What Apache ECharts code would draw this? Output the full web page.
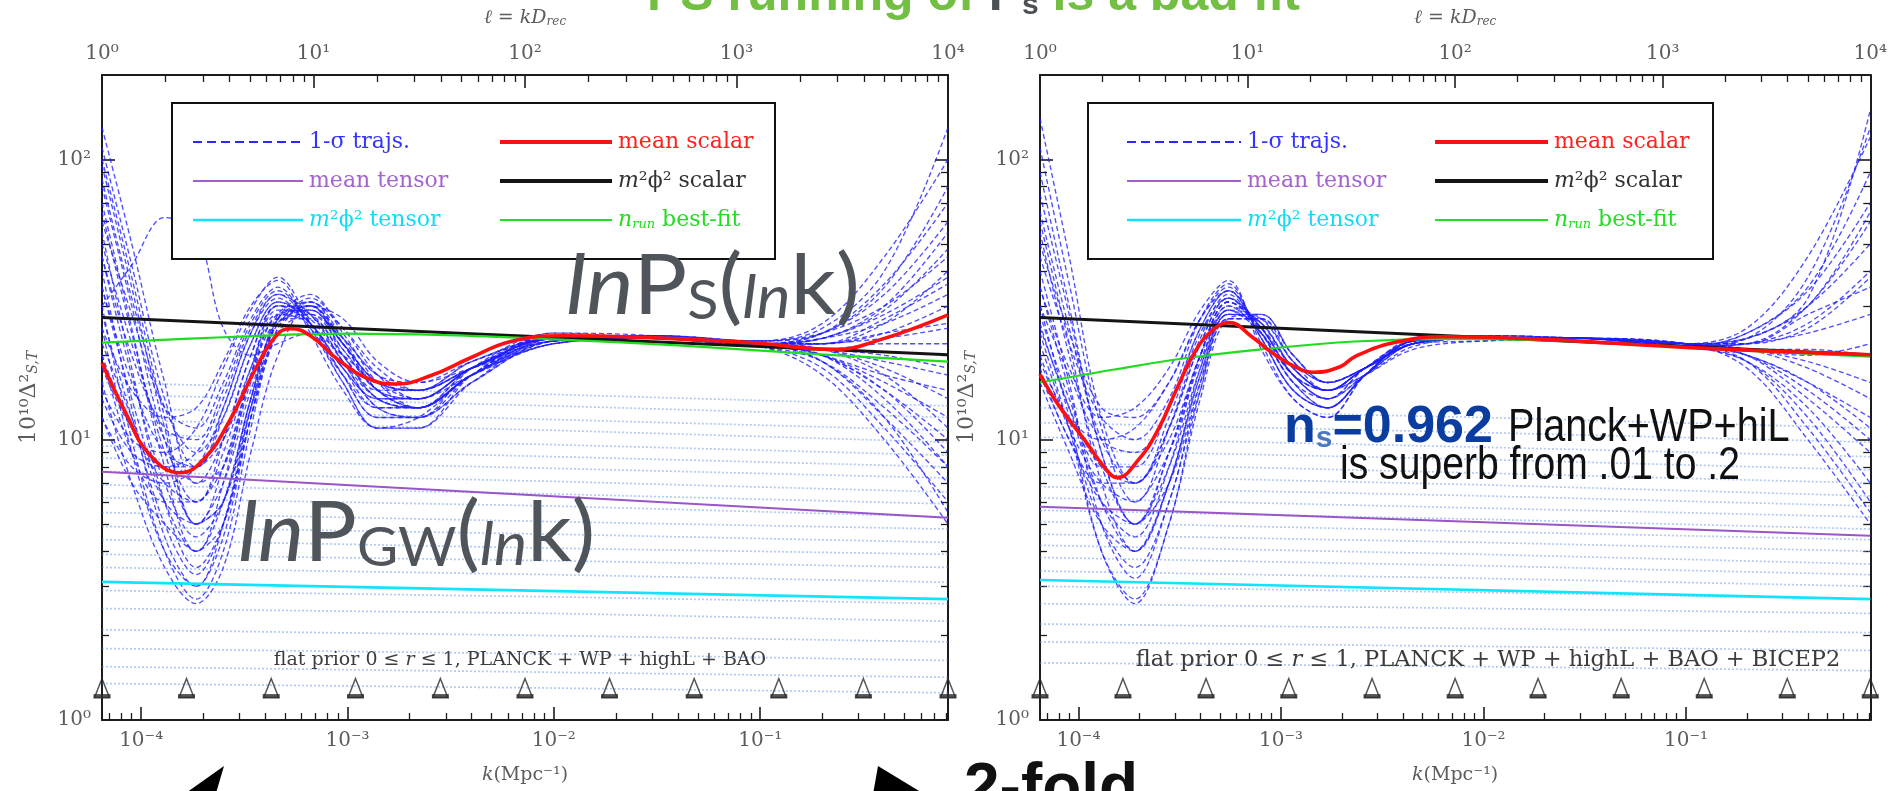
<!DOCTYPE html>
<html>
<head>
<meta charset="utf-8">
<script src="https://cdn.jsdelivr.net/npm/echarts@6/dist/echarts.min.js"></script>
<style>
  html, body { margin: 0; padding: 0; background: #ffffff; }
  #chart { width: 1890px; height: 791px; }
</style>
</head>
<body>
<div id="chart"></div>
<script>
// ---------------- data ----------------
// axis extents
const kRange = [6.46e-5, 0.813];          // k in Mpc^-1 (bottom axis)
const ellRange = [1, 1e4];                // l = k D_rec (top axis)
const powerRange = [1, 200];              // 10^10 Delta^2
const kTicksMajor = [1e-4, 1e-3, 1e-2, 1e-1];
const ellTicksMajor = [1, 10, 100, 1000, 10000];
const powerTicksMajor = [1, 10, 100];

// spline knots (triangles) along l
const ellKnots = [1, 2.51, 6.31, 15.8, 39.8, 100, 251, 631, 1585, 3981, 10000];
const knotLevel = 1.3;

// power-law lines: values at the two ends of the k range
const kLine = [6.46e-5, 0.813];
const m2ScalarLeft = [27.3, 20.1];
const m2ScalarRight = [27.3, 20.1];
const meanTensorLeft = [7.69, 5.27];
const meanTensorRight = [5.77, 4.54];
const m2TensorLeft = [3.11, 2.70];
const m2TensorRight = [3.16, 2.70];

// running best fit
const kRunLeft = [6.46e-5, 2.5e-4, 1e-3, 3e-3, 0.01, 0.04, 0.15, 0.813];
const runLeft = [22.2, 23.2, 23.9, 23.6, 22.8, 21.7, 20.4, 19.0];
const kRunRight = [6.46e-5, 1.5e-4, 3.5e-4, 8e-4, 2.3e-3, 7e-3, 0.03, 0.15, 0.813];
const runRight = [16.0, 17.8, 19.6, 21.0, 22.4, 22.9, 22.4, 21.0, 19.8];

// mean scalar spectrum
const kMeanLeft = [6.46e-5, 8.36e-5, 1.10e-4, 1.55e-4, 2.04e-4, 2.70e-4, 3.57e-4, 4.47e-4, 5.28e-4, 6.61e-4,
  9.23e-4, 1.29e-3, 1.71e-3, 2.52e-3, 3.95e-3, 6.18e-3, 0.0108, 0.0295, 0.0903, 0.229, 0.386, 0.813];
const meanScalarLeft = [18.8, 12.6, 8.84, 7.62, 8.62, 11.8, 17.8, 23.3, 24.9, 23.5,
  19.0, 16.4, 15.8, 16.9, 19.6, 22.4, 23.5, 23.1, 22.2, 21.0, 22.8, 27.9];
const kMeanRight = [6.46e-5, 8.07e-5, 1.07e-4, 1.34e-4, 1.55e-4, 1.98e-4, 2.48e-4, 3.10e-4, 3.87e-4, 4.84e-4,
  5.54e-4, 7.18e-4, 8.98e-4, 1.19e-3, 1.45e-3, 1.96e-3, 2.32e-3, 3.64e-3, 6.37e-3, 0.0195, 0.105, 0.813];
const meanScalarRight = [17.1, 13.1, 10.0, 8.0, 7.32, 8.49, 10.9, 15.5, 21.3, 25.3,
  26.2, 23.3, 20.5, 18.1, 17.4, 18.2, 19.8, 22.2, 23.3, 22.8, 21.3, 20.1];

// 1-sigma scalar trajectories, each panel on its own k grid
const kTrajLeft = [6.46e-5, 9e-5, 1.3e-4, 1.85e-4, 2.5e-4, 3.4e-4, 4.6e-4, 6.6e-4, 9.5e-4, 1.4e-3,
  2.2e-3, 4e-3, 1e-2, 0.03, 0.1, 0.2, 0.4, 0.813];
const kTrajRight = [6.46e-5, 9e-5, 1.3e-4, 1.9e-4, 2.8e-4, 4e-4, 5.5e-4, 8e-4, 1.15e-3, 1.7e-3,
  2.6e-3, 4.5e-3, 1e-2, 0.03, 0.1, 0.2, 0.4, 0.813];
const trajLeft = [
  [130, 50, 16, 7, 8, 16, 27, 27, 20, 15, 15, 19, 23, 23, 22, 22, 26, 40],
  [95, 35, 11, 5, 6, 14, 26, 28, 21, 15, 14, 18, 23, 23.5, 22, 20, 16, 12],
  [70, 25, 8, 4, 5, 12, 25, 30, 22, 16, 14, 18, 22.5, 23, 22.5, 24, 35, 80],
  [55, 18, 6, 3.5, 5, 13, 28, 31, 22, 15, 13, 17, 22, 23, 22, 21, 18, 14],
  [40, 13, 4.5, 3, 4.5, 12, 27, 33, 24, 16, 13, 17, 22, 23, 22.5, 25, 40, 130],
  [30, 10, 4, 2.7, 4, 11, 25, 32, 25, 17, 14, 17, 22, 23, 21.5, 19, 13, 8],
  [25, 9, 4, 3, 5, 13, 26, 30, 23, 17, 15, 18, 22.5, 23, 22, 22, 24, 30],
  [20, 9, 6, 6, 10, 20, 30, 26, 18, 14, 14, 18, 23, 23, 21.5, 18, 11, 6],
  [18, 11, 8, 8, 13, 24, 32, 25, 17, 13, 13, 18, 23.5, 23, 22, 23, 30, 55],
  [35, 16, 9, 8, 12, 22, 31, 27, 19, 14, 13, 17, 23, 23.5, 22, 20, 15, 10],
  [45, 20, 11, 10, 15, 26, 34, 26, 17, 12, 12, 18, 24, 23.5, 21.5, 21, 22, 22],
  [60, 28, 13, 11, 16, 27, 35, 25, 16, 11, 11, 17, 23.5, 23, 22, 24, 33, 60],
  [25, 15, 12, 13, 19, 30, 37, 24, 15, 11, 12, 17, 24, 23, 22, 19, 12, 5.5],
  [15, 10, 9, 11, 18, 29, 38, 26, 16, 11, 11, 16, 23, 23.5, 22.5, 26, 45, 100],
  [12, 8, 7, 8, 13, 24, 33, 28, 19, 13, 12, 16, 22.5, 23, 22, 20, 17, 15],
  [22, 12, 6, 5, 8, 17, 27, 29, 22, 16, 15, 18, 23, 23, 21.5, 21, 20, 18],
  [30, 42, 62, 55, 25, 20, 22, 24, 20, 16, 15, 18, 23, 23, 22, 21, 19, 17],
  [100, 38, 12, 5, 6, 13, 24, 28, 23, 17, 16, 19, 23, 23, 22, 23, 28, 38],
  [12, 7, 5, 4, 7, 17, 30, 30, 20, 14, 13, 17, 22.5, 23, 21.5, 17, 10, 5],
  [80, 30, 10, 6, 8, 17, 28, 29, 21, 15, 13, 17, 23, 23.5, 22.5, 24, 30, 45],
  [16, 7, 3.5, 2.6, 3.5, 9, 20, 30, 27, 19, 16, 18, 22, 23, 22, 23, 26, 33],
  [50, 22, 10, 7, 10, 20, 30, 28, 19, 13, 12, 16, 22.5, 23, 22, 20, 14, 8],
  [110, 42, 14, 8, 10, 18, 28, 26, 18, 14, 14, 18, 23, 23, 22, 22, 24, 26],
  [65, 24, 9, 5, 7, 15, 26, 29, 22, 16, 15, 19, 23, 23, 22, 21, 17, 11],
  [35, 14, 6, 4, 6, 14, 27, 31, 23, 15, 13, 17, 22.5, 23.5, 22, 23, 29, 48],
  [20, 11, 7, 6, 9, 18, 29, 28, 20, 14, 13, 17, 23, 23, 22, 20, 15, 9],
  [28, 12, 5, 3.3, 5, 12, 24, 31, 25, 18, 15, 18, 22.5, 23, 21.5, 22, 23, 25],
  [85, 32, 13, 9, 12, 22, 31, 26, 17, 12, 12, 17, 23.5, 23, 22, 24, 36, 70],
  [14, 9, 8, 9, 14, 25, 33, 26, 18, 13, 13, 18, 23, 23, 22, 19, 12, 7],
  [45, 17, 7, 4.5, 6, 14, 27, 30, 22, 15, 14, 18, 23, 23, 22, 22, 27, 36]
];
const trajRight = [
  [110, 36, 11, 6, 9, 19, 29, 24, 17, 15, 18, 22, 23, 23, 21.5, 22, 30, 60],
  [60, 22, 7, 4, 7, 17, 28, 26, 18, 15, 17, 21, 22.5, 23, 22, 20, 14, 9],
  [40, 16, 5, 3.2, 6, 15, 27, 27, 19, 16, 18, 22, 23, 23, 21.5, 23, 38, 130],
  [30, 12, 4, 2.6, 5, 14, 27, 28, 20, 16, 18, 22, 23, 23, 22, 19, 11, 5.5],
  [25, 13, 6, 4.5, 8, 20, 31, 25, 17, 15, 18, 22, 23, 23, 21.5, 22, 26, 40],
  [20, 11, 7, 6, 11, 23, 33, 24, 16, 14, 18, 22.5, 23.5, 23, 22, 21, 18, 14],
  [30, 17, 10, 9, 13, 25, 34, 23, 15, 13, 17, 22.5, 23, 23, 21.5, 24, 35, 90],
  [45, 22, 12, 10, 14, 27, 36, 22, 14, 12, 17, 23, 23.5, 23, 22, 20, 15, 10],
  [18, 10, 7, 7, 12, 24, 32, 25, 17, 14, 18, 22.5, 23, 22.5, 21.5, 22, 24, 28],
  [22, 11, 5, 3.5, 6, 16, 29, 27, 19, 15, 17, 21.5, 23, 23, 22, 18, 10, 5],
  [35, 18, 12, 13, 18, 29, 37, 21, 14, 12, 17, 22.5, 23.5, 23, 22, 25, 45, 120],
  [28, 14, 8, 8, 13, 25, 34, 24, 16, 13, 17, 22.5, 23, 23, 21.5, 21, 21, 20],
  [16, 9, 5, 4, 7, 17, 28, 27, 19, 16, 18, 22, 23, 22.5, 21.5, 20, 16, 12],
  [50, 24, 13, 12, 16, 27, 35, 23, 15, 13, 17, 22.5, 23, 23, 22, 23, 30, 50],
  [75, 28, 9, 5, 8, 18, 29, 25, 18, 15, 18, 22, 23, 23, 21.5, 19, 13, 7],
  [24, 11, 4, 2.7, 5, 15, 28, 28, 20, 16, 18, 22, 22.5, 23, 22, 22, 28, 35],
  [140, 45, 12, 7, 10, 20, 30, 24, 17, 15, 18, 22, 23, 23, 21.5, 24, 34, 70],
  [19, 12, 10, 11, 16, 27, 34, 23, 15, 13, 17, 22.5, 23, 23, 22, 21, 19, 16],
  [90, 30, 9, 5, 7, 16, 27, 27, 20, 16, 18, 22, 23, 23, 22, 23, 32, 150],
  [55, 20, 8, 5, 9, 20, 31, 25, 17, 14, 17, 22, 23, 23, 21.5, 19, 12, 6],
  [35, 15, 6, 4, 7, 18, 30, 26, 18, 15, 18, 22, 23.5, 23, 22, 22, 25, 38],
  [26, 13, 8, 7, 11, 22, 32, 25, 17, 14, 17, 22, 23, 23, 22, 20, 16, 11],
  [17, 10, 6, 5, 9, 20, 31, 26, 18, 15, 18, 22.5, 23, 22.5, 21.5, 23, 30, 65],
  [65, 25, 10, 7, 11, 22, 32, 24, 16, 13, 17, 22, 23, 23, 22, 21, 20, 22]
];

// tensor trajectories: values at the low end, k = 0.01 and the high end
const kTensor = [6.46e-5, 0.01, 0.813];
const tensorLeft = [
  [16, 14.5, 13.2], [14.5, 13.2, 12], [13, 11.8, 10.8], [11.8, 10.8, 9.8], [10.5, 9.6, 8.8],
  [9.5, 8.7, 8], [8.6, 7.9, 7.3], [7.7, 7.1, 6.5], [6.9, 6.4, 5.9], [6.2, 5.8, 5.3],
  [5.5, 5.1, 4.8], [4.9, 4.6, 4.3], [4.4, 4.1, 3.9], [3.9, 3.7, 3.5], [3.5, 3.3, 3.1],
  [2.9, 2.75, 2.6], [2.5, 2.4, 2.25], [2.1, 2.0, 1.9], [1.8, 1.72, 1.63], [1.55, 1.48, 1.42],
  [1.35, 1.3, 1.25]
];
const tensorRight = [
  [13, 12, 11], [11.5, 10.6, 9.8], [10.2, 9.4, 8.7], [9.2, 8.5, 7.8], [8.3, 7.6, 7],
  [7.5, 6.9, 6.3], [6.8, 6.3, 5.8], [6.2, 5.7, 5.3], [5.6, 5.2, 4.8], [5.1, 4.7, 4.4],
  [4.6, 4.3, 4.0], [4.2, 3.9, 3.6], [3.8, 3.55, 3.3], [3.4, 3.2, 3.0], [3.0, 2.85, 2.7],
  [2.6, 2.5, 2.4], [2.2, 2.12, 2.05], [1.9, 1.83, 1.77], [1.6, 1.55, 1.5]
];

// ---------------- helpers ----------------
const L = Math.log10;
const SERIF = "'DejaVu Serif', 'Liberation Serif', serif";
const SUP = { '-': '⁻', '0': '⁰', '1': '¹', '2': '²', '3': '³', '4': '⁴', '5': '⁵', '6': '⁶', '7': '⁷', '8': '⁸', '9': '⁹' };
const sup = n => String(n).split('').map(c => SUP[c]).join('');
const pow10Label = v => '10' + sup(Math.round(v));

function minorLogs(lo, hi) {
  const out = [];
  for (let n = Math.floor(L(lo)) - 1; n <= Math.ceil(L(hi)); n++) {
    for (let m = 2; m <= 9; m++) {
      const v = m * Math.pow(10, n);
      if (v > lo * 1.0001 && v < hi * 0.9999) out.push(L(v));
    }
  }
  return out;
}

const AXIS_COLOR = '#1c1c1c';
const LABEL_COLOR = '#5c5c5c';
const xAxes = [];
const yAxes = [];

// each frame side = one axis with major ticks/labels + one axis with minor ticks
function frameSide(list, grid, pos, range, major, showLabels, nameCfg) {
  const base = { type: 'value', gridIndex: grid, position: pos, min: L(range[0]), max: L(range[1]),
    splitLine: { show: false }, axisPointer: { show: false } };
  list.push(Object.assign({}, base, {
    axisLine: { show: true, onZero: false, lineStyle: { color: AXIS_COLOR, width: 2 } },
    axisTick: { show: true, inside: true, length: 13, customValues: major.map(L),
      lineStyle: { color: AXIS_COLOR, width: 1.6 } },
    axisLabel: { show: showLabels, customValues: major.map(L), formatter: pow10Label,
      fontFamily: SERIF, fontSize: 20, color: LABEL_COLOR, margin: 11 }
  }, nameCfg || {}));
  list.push(Object.assign({}, base, {
    axisLine: { show: false, onZero: false },
    axisTick: { show: true, inside: true, length: 7, customValues: minorLogs(range[0], range[1]),
      lineStyle: { color: AXIS_COLOR, width: 1.3 } },
    axisLabel: { show: false }
  }));
}

function nameStyle(size) {
  return {
    fontFamily: SERIF, fontSize: size, color: LABEL_COLOR,
    rich: {
      i: { fontFamily: SERIF, fontSize: size, fontStyle: 'italic', color: LABEL_COLOR },
      s: { fontFamily: SERIF, fontSize: Math.round(size * 0.65), fontStyle: 'italic', color: LABEL_COLOR,
        verticalAlign: 'bottom', lineHeight: Math.round(size * 0.55) }
    }
  };
}

for (let g = 0; g < 2; g++) {
  // x axes: 4g bottom major, 4g+1 bottom minor, 4g+2 top major, 4g+3 top minor
  frameSide(xAxes, g, 'bottom', kRange, kTicksMajor, true,
    { name: '{i|k}(Mpc⁻¹)', nameLocation: 'middle', nameGap: 46, nameTextStyle: nameStyle(19) });
  frameSide(xAxes, g, 'top', ellRange, ellTicksMajor, true,
    { name: '{i|ℓ} = {i|kD}{s|rec}', nameLocation: 'middle', nameGap: 47, nameTextStyle: nameStyle(19) });
  // y axes: 4g left major, 4g+1 left minor, 4g+2 right major, 4g+3 right minor
  frameSide(yAxes, g, 'left', powerRange, powerTicksMajor, true,
    { name: '10¹⁰Δ²{s|S,T}', nameLocation: 'middle', nameGap: 62, nameRotate: 90, nameTextStyle: nameStyle(22) });
  frameSide(yAxes, g, 'right', powerRange, powerTicksMajor, false);
}

function curve(grid, ks, ps, lineStyle, z, smooth, xi) {
  return {
    type: 'line', xAxisIndex: grid * 4 + (xi || 0), yAxisIndex: grid * 4,
    data: ks.map((k, i) => [L(k), L(ps[i])]),
    symbol: 'none', showSymbol: false, smooth: smooth || false,
    lineStyle: lineStyle, z: z, silent: true, clip: true
  };
}

const series = [];
const TENSOR_STYLE = { color: 'rgba(100,150,240,0.5)', width: 1.7, type: [2, 2] };
const TRAJ_STYLE = { color: 'rgba(30,30,255,0.78)', width: 1.35, type: [5, 3] };

[[tensorLeft, trajLeft, kTrajLeft, 0], [tensorRight, trajRight, kTrajRight, 1]].forEach(([tens, traj, kg, g]) => {
  tens.forEach(t => series.push(curve(g, kTensor, t, TENSOR_STYLE, 1, false)));
  traj.forEach(t => series.push(curve(g, kg, t, TRAJ_STYLE, 2, 0.35)));
});

const panels = [
  { g: 0, m2s: m2ScalarLeft, mt: meanTensorLeft, m2t: m2TensorLeft, kr: kRunLeft, run: runLeft, km: kMeanLeft, ms: meanScalarLeft },
  { g: 1, m2s: m2ScalarRight, mt: meanTensorRight, m2t: m2TensorRight, kr: kRunRight, run: runRight, km: kMeanRight, ms: meanScalarRight }
];
panels.forEach(p => {
  series.push(curve(p.g, kLine, p.m2t, { color: '#10e4ff', width: 2.6 }, 3));
  series.push(curve(p.g, kLine, p.mt, { color: '#9a55c8', width: 2 }, 3));
  series.push(curve(p.g, kLine, p.m2s, { color: '#141414', width: 3 }, 4));
  series.push(curve(p.g, p.kr, p.run, { color: '#1fdc1f', width: 2.2 }, 5, 0.4));
  series.push(curve(p.g, p.km, p.ms, { color: '#ff1010', width: 3.6 }, 6, 0.45));
  // knot markers on the l axis
  series.push({
    type: 'scatter', xAxisIndex: p.g * 4 + 2, yAxisIndex: p.g * 4, silent: true, z: 8, clip: false,
    data: ellKnots.map(e => [L(e), L(knotLevel)]),
    symbol: 'path://M8,0 L16,20 L0,20 Z', symbolSize: [15, 19],
    itemStyle: { color: 'rgba(255,255,255,0)', borderColor: '#2a2a2a', borderWidth: 1.6 }
  });
  series.push({
    type: 'scatter', xAxisIndex: p.g * 4 + 2, yAxisIndex: p.g * 4, silent: true, z: 9, clip: false,
    data: ellKnots.map(e => [L(e), L(knotLevel)]),
    symbol: 'rect', symbolSize: [17, 4], symbolOffset: [0, 8],
    itemStyle: { color: '#2a2a2a' }
  });
});

// ---------------- legend boxes and annotations ----------------
const LEG_FONT = "22px 'DejaVu Serif', serif";
function legendBox(x0, y0, x1, y1, c1, c2) {
  const rows = [142, 181, 220];
  const els = [{ type: 'rect', z: 100, silent: true,
    shape: { x: x0, y: y0, width: x1 - x0, height: y1 - y0 },
    style: { fill: '#ffffff', stroke: '#111111', lineWidth: 2 } }];
  const items = [
    [c1, rows[0], { stroke: '#2a2aff', lineWidth: 2, lineDash: [9, 5] }, '1-σ trajs.', '#3535ff'],
    [c1, rows[1], { stroke: '#a05fd0', lineWidth: 2.2 }, 'mean tensor', '#a463d2'],
    [c1, rows[2], { stroke: '#10e4ff', lineWidth: 2.6 }, '{i|m}²ϕ² tensor', '#12dcf5'],
    [c2, rows[0], { stroke: '#ff1010', lineWidth: 4 }, 'mean scalar', '#ff2020'],
    [c2, rows[1], { stroke: '#141414', lineWidth: 4 }, '{i|m}²ϕ² scalar', '#333333'],
    [c2, rows[2], { stroke: '#22e022', lineWidth: 2 }, '{i|n}{s|run} best-fit', '#22dd22']
  ];
  items.forEach(([c, y, st, txt, col]) => {
    els.push({ type: 'line', z: 101, silent: true, shape: { x1: c[0], y1: y, x2: c[1], y2: y },
      style: Object.assign({ fill: null }, st) });
    els.push({ type: 'text', z: 101, silent: true, x: c[1] + 6, y: y,
      style: { text: txt, font: LEG_FONT, fill: col, verticalAlign: 'middle', align: 'left',
        rich: {
          i: { font: "italic 22px 'DejaVu Serif', serif", fill: col },
          s: { font: "italic 13px 'DejaVu Serif', serif", fill: col, verticalAlign: 'bottom', lineHeight: 12 }
        } } });
  });
  return els;
}

const GILL = "'Lato', 'Open Sans', sans-serif";
const ANNOT = '#50555b';
function bigLabel(x, y, sub, sx) {
  return { type: 'text', z: 110, silent: true, x: x, y: y, scaleX: sx,
    style: {
      text: '{it|ln}{bg|P}{sb|' + sub + '}{bg|(}{its|ln}{bg|k}{bg|)}',
      verticalAlign: 'bottom', align: 'left',
      rich: {
        it: { font: 'italic 84px ' + GILL, fill: ANNOT, lineHeight: 84, verticalAlign: 'bottom' },
        bg: { font: '84px ' + GILL, fill: ANNOT, lineHeight: 84, verticalAlign: 'bottom' },
        sb: { font: '54px ' + GILL, fill: ANNOT, lineHeight: 38, verticalAlign: 'bottom' },
        its: { font: 'italic 60px ' + GILL, fill: ANNOT, lineHeight: 66, verticalAlign: 'bottom' }
      }
    } };
}

const SANS = "'Liberation Sans', Arial, sans-serif";
const graphic = []
  .concat(legendBox(172, 103, 775, 259, [193, 303], [500, 612]))
  .concat(legendBox(1088, 103, 1713, 259, [1127, 1241], [1435, 1548]))
  .concat([
    bigLabel(566, 329, 'S', 1.065),
    bigLabel(238, 576, 'GW', 1.045),
    { type: 'text', z: 110, silent: true, x: 520, y: 660,
      style: { text: 'flat prior 0 ≤ {i|r} ≤ 1, PLANCK + WP + highL + BAO', font: "19px 'DejaVu Serif', serif",
        fill: '#3c3c3c', align: 'center', verticalAlign: 'middle',
        rich: { i: { font: "italic 19px 'DejaVu Serif', serif", fill: '#3c3c3c' } } } },
    { type: 'text', z: 110, silent: true, x: 1488, y: 660,
      style: { text: 'flat prior 0 ≤ {i|r} ≤ 1, PLANCK + WP + highL + BAO + BICEP2', font: "22.5px 'DejaVu Serif', serif",
        fill: '#3c3c3c', align: 'center', verticalAlign: 'middle',
        rich: { i: { font: "italic 22.5px 'DejaVu Serif', serif", fill: '#3c3c3c' } } } },
    { type: 'text', z: 110, silent: true, x: 1284, y: 428,
      style: { text: '{nb|n}{ns|s}{nb|=0.962}', verticalAlign: 'middle', align: 'left',
        rich: {
          nb: { font: 'bold 52px ' + SANS, fill: '#0b3c9f', lineHeight: 52 },
          ns: { font: 'bold 30px ' + SANS, fill: '#4a78c4', lineHeight: 20, verticalAlign: 'bottom' }
        } } },
    { type: 'text', z: 110, silent: true, x: 1508, y: 428, scaleX: 0.86,
      style: { text: 'Planck+WP+hiL', font: '46px ' + SANS, fill: '#111111',
        verticalAlign: 'middle', align: 'left' } },
    { type: 'text', z: 110, silent: true, x: 1340, y: 466, scaleX: 0.85,
      style: { text: 'is superb from .01 to .2', font: '46px ' + SANS, fill: '#111111',
        verticalAlign: 'middle', align: 'left' } },
    // heading, partly above the top edge
    { type: 'text', z: 110, silent: true, x: 647, y: -4,
      style: { text: '{g|PS running of }{d|P}{ds|s}{g| is a bad fit}', verticalAlign: 'middle', align: 'left',
        rich: {
          g: { font: 'bold 50px ' + SANS, fill: '#72bf44', lineHeight: 50 },
          d: { font: 'bold 50px ' + SANS, fill: '#4d5157', lineHeight: 50 },
          ds: { font: 'bold 30px ' + SANS, fill: '#4d5157', lineHeight: 16, verticalAlign: 'bottom' }
        } } },
    { type: 'text', z: 110, silent: true, x: 964, y: 790,
      style: { text: '2-fold', font: 'bold 64px ' + SANS, fill: '#111111', verticalAlign: 'middle', align: 'left' } },
    { type: 'polygon', z: 110, silent: true, shape: { points: [[224, 766], [176, 800], [214, 800]] },
      style: { fill: '#000000' } },
    { type: 'polygon', z: 110, silent: true, shape: { points: [[878, 766], [872, 800], [934, 800]] },
      style: { fill: '#000000' } }
  ]);

const option = {
  animation: false,
  backgroundColor: '#ffffff',
  grid: [
    { left: 102, top: 75, width: 846, height: 645, containLabel: false },
    { left: 1040, top: 75, width: 843, height: 645, containLabel: false }
  ],
  xAxis: xAxes,
  yAxis: yAxes,
  series: series,
  graphic: graphic
};

const chart = echarts.init(document.getElementById('chart'), null, { renderer: 'canvas' });
chart.setOption(option);
</script>
</body>
</html>
